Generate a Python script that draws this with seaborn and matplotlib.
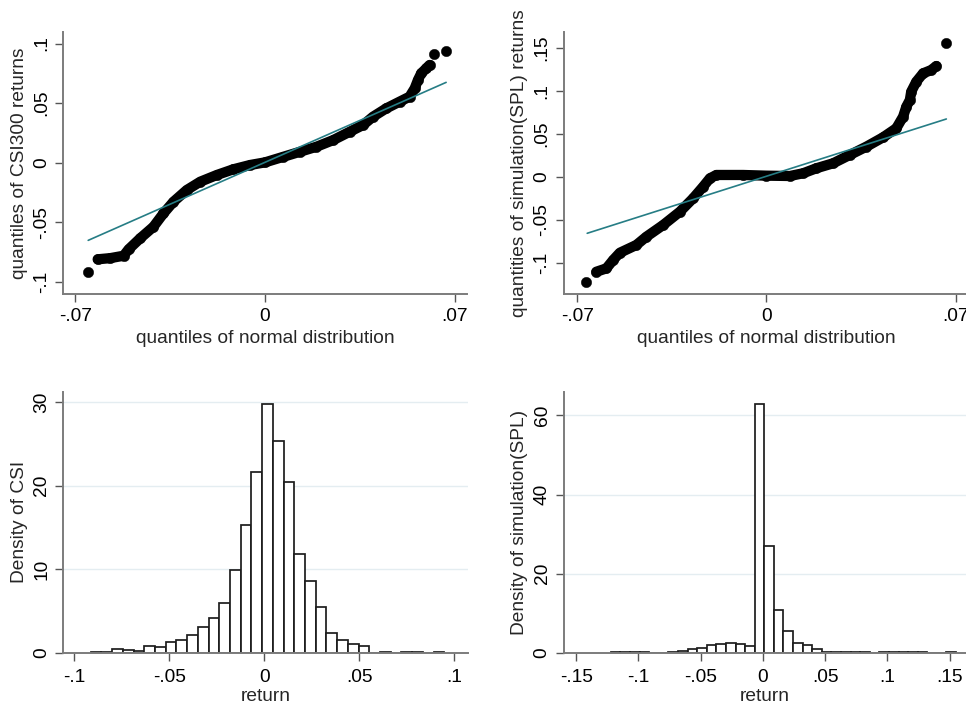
import numpy as np
import pandas as pd
import matplotlib
matplotlib.use("Agg")
import matplotlib.pyplot as plt
import seaborn as sns

# ---------------- data ----------------
# Q-Q plot CSI300 (normal quantile, sample quantile) along the dense band
csi_qx = [-0.0618, -0.0571, -0.0522, -0.0504, -0.0461, -0.0412, -0.0375, -0.0338,
          -0.0289, -0.0239, -0.0178, -0.0117, -0.0055, 0.0, 0.0068, 0.0129, 0.019,
          0.0252, 0.0313, 0.0362, 0.0399, 0.0448, 0.0497, 0.0534, 0.0553, 0.0565,
          0.0577, 0.0596, 0.0608]
csi_qy = [-0.081, -0.080, -0.078, -0.0727, -0.0634, -0.0537, -0.0425, -0.0327,
          -0.0229, -0.0159, -0.0103, -0.0055, -0.0019, 0.0003, 0.005, 0.0092, 0.0134,
          0.019, 0.026, 0.0316, 0.0386, 0.0456, 0.0512, 0.0554, 0.0624, 0.0694,
          0.075, 0.0792, 0.082]
csi_tail_x = [-0.0653, 0.0626, 0.0669]
csi_tail_y = [-0.092, 0.0912, 0.094]
csi_ref_x = [-0.0653, 0.0669]
csi_ref_y = [-0.0651, 0.0674]

# Q-Q plot simulation (SPL)
spl_qx = [-0.0629, -0.0592, -0.0567, -0.0542, -0.0481, -0.0444, -0.0382, -0.032,
          -0.0271, -0.0234, -0.0209, -0.0185, -0.0086, 0.0, 0.0087, 0.0136, 0.0185,
          0.0247, 0.0308, 0.037, 0.0432, 0.0481, 0.0506, 0.0518, 0.0531, 0.0536,
          0.0555, 0.058, 0.061, 0.0629]
spl_qy = [-0.1105, -0.1066, -0.0969, -0.0884, -0.0794, -0.0698, -0.0562, -0.0407,
          -0.0251, -0.0116, -0.0019, 0.002, 0.002, 0.0012, 0.0008, 0.004, 0.0098,
          0.0156, 0.0252, 0.0349, 0.0458, 0.0563, 0.0698, 0.0814, 0.0892, 0.0988,
          0.1105, 0.1202, 0.124, 0.1287]
spl_tail_x = [-0.0666, 0.0666]
spl_tail_y = [-0.1221, 0.1551]
spl_ref_x = [-0.0663, 0.0666]
spl_ref_y = [-0.0658, 0.0671]

# Histogram CSI (density per bin)
csi_bin_start = -0.0914
csi_bin_width = 0.00564
csi_density = [0.09, 0.09, 0.4, 0.3, 0.2, 0.85, 0.65, 1.25, 1.5, 2.1, 3.1, 4.15,
               6.0, 9.85, 15.3, 21.6, 29.8, 25.4, 20.5, 11.8, 8.6, 5.5, 2.4, 1.5,
               1.1, 0.84, 0.0, 0.09, 0.0, 0.09, 0.09, 0.0, 0.09]

# Histogram SPL (density per bin)
spl_bin_start = -0.1221
spl_bin_width = 0.0077
spl_density = [0.1, 0.1, 0.1, 0.1, 0.05, 0.05, 0.15, 0.5, 0.9, 1.3, 1.85, 2.15,
               2.5, 2.2, 1.75, 63.0, 27.0, 10.8, 5.6, 2.5, 1.9, 0.85, 0.2, 0.1,
               0.1, 0.1, 0.1, 0.0, 0.1, 0.1, 0.1, 0.1, 0.1, 0.0, 0.0, 0.1]

# ticks
qq_xticks = [-0.07, 0.0, 0.07]
qq_xlabels = ["-.07", "0", ".07"]
csi_qq_yticks = [-0.1, -0.05, 0.0, 0.05, 0.1]
csi_qq_ylabels = ["-.1", "-.05", "0", ".05", ".1"]
spl_qq_yticks = [-0.1, -0.05, 0.0, 0.05, 0.1, 0.15]
spl_qq_ylabels = ["-.1", "-.05", "0", ".05", ".1", ".15"]
csi_h_xticks = [-0.1, -0.05, 0.0, 0.05, 0.1]
csi_h_xlabels = ["-.1", "-.05", "0", ".05", ".1"]
csi_h_yticks = [0, 10, 20, 30]
spl_h_xticks = [-0.15, -0.1, -0.05, 0.0, 0.05, 0.1, 0.15]
spl_h_xlabels = ["-.15", "-.1", "-.05", "0", ".05", ".1", ".15"]
spl_h_yticks = [0, 20, 40, 60]

# ---------------- style ----------------
sns.set_theme(style="ticks")
plt.rcParams["font.family"] = ["Liberation Sans", "DejaVu Sans"]
FS = 13.8
AXC = "#7c7c7c"
TICKC = "#555555"
TEAL = "#267d85"

fig = plt.figure(figsize=(9.66, 7.06), dpi=100)
W, H = 966.0, 706.0


def add_ax(l, r, t, b):
    return fig.add_axes([l / W, (H - b) / H, (r - l) / W, (b - t) / H])


ax1 = add_ax(63.3, 466.7, 31.7, 294.0)
ax2 = add_ax(563.7, 969.3, 31.7, 294.0)
ax3 = add_ax(63.3, 467.7, 391.7, 652.7)
ax4 = add_ax(563.7, 966.5, 391.7, 652.7)


def style_axis(ax, xlabpad):
    for s in ["top", "right"]:
        ax.spines[s].set_visible(False)
    for s in ["left", "bottom"]:
        ax.spines[s].set_color(AXC)
        ax.spines[s].set_linewidth(1.4)
    ax.tick_params(axis="both", direction="out", length=6, width=1.0,
                   color=TICKC, labelsize=FS, labelcolor="black")
    ax.tick_params(axis="x", pad=xlabpad)
    ax.tick_params(axis="y", pad=3.5)


def qq_panel(ax, bx, by, tx, ty, rx, ry, ylabel, yticks, ylabels, ylim):
    band = pd.DataFrame({"x": bx, "y": by})
    sns.lineplot(data=band, x="x", y="y", ax=ax, color="black", linewidth=7.4,
                 sort=False, estimator=None, solid_capstyle="round",
                 solid_joinstyle="round", zorder=2)
    pts = pd.DataFrame({"x": bx + tx, "y": by + ty})
    sns.scatterplot(data=pts, x="x", y="y", ax=ax, color="black", s=56,
                    edgecolor="black", linewidth=0.3, zorder=3)
    ref = pd.DataFrame({"x": rx, "y": ry})
    sns.lineplot(data=ref, x="x", y="y", ax=ax, color=TEAL, linewidth=1.2, sort=False,
                 estimator=None, zorder=4)
    ax.set_xlim(-0.0745, 0.0745)
    ax.set_ylim(*ylim)
    ax.set_xticks(qq_xticks)
    ax.set_xticklabels(qq_xlabels)
    ax.set_yticks(yticks)
    ax.set_yticklabels(ylabels, rotation=90, va="center")
    ax.set_xlabel("quantiles of normal distribution", fontsize=FS, labelpad=4)
    ax.set_ylabel(ylabel, fontsize=FS, labelpad=4)
    style_axis(ax, 4.0)


def hist_panel(ax, start, width, dens, ylabel, xticks, xlabels, yticks, xlim, ylim):
    n = len(dens)
    edges = start + width * np.arange(n + 1)
    centers = (edges[:-1] + edges[1:]) / 2
    df = pd.DataFrame({"x": centers, "w": dens})
    ax.yaxis.grid(True, color="#e4edf1", linewidth=1.0, zorder=0)
    ax.set_axisbelow(True)
    sns.histplot(data=df, x="x", weights="w", bins=edges.tolist(), stat="count", ax=ax,
                 element="bars", fill=True, facecolor="white", alpha=1,
                 edgecolor="#1c1c1c", linewidth=1.25, zorder=2)
    ax.set_xlim(*xlim)
    ax.set_ylim(*ylim)
    ax.set_xticks(xticks)
    ax.set_xticklabels(xlabels)
    ax.set_yticks(yticks)
    ax.set_yticklabels([str(v) for v in yticks], rotation=90, va="center")
    ax.set_xlabel("return", fontsize=FS, labelpad=1.5)
    ax.set_ylabel(ylabel, fontsize=FS, labelpad=4)
    style_axis(ax, 5.5)


qq_panel(ax1, csi_qx, csi_qy, csi_tail_x, csi_tail_y, csi_ref_x, csi_ref_y,
         "quantiles of CSI300 returns", csi_qq_yticks, csi_qq_ylabels, (-0.1101, 0.1099))
qq_panel(ax2, spl_qx, spl_qy, spl_tail_x, spl_tail_y, spl_ref_x, spl_ref_y,
         "quantities of simulation(SPL) returns", spl_qq_yticks, spl_qq_ylabels,
         (-0.1364, 0.1686))
ax2.set_xlim(-0.075, 0.0751)

hist_panel(ax3, csi_bin_start, csi_bin_width, csi_density, "Density of CSI",
           csi_h_xticks, csi_h_xlabels, csi_h_yticks, (-0.1058, 0.107), (0, 31.26))
hist_panel(ax4, spl_bin_start, spl_bin_width, spl_density, "Density of simulation(SPL)",
           spl_h_xticks, spl_h_xlabels, spl_h_yticks, (-0.160, 0.1635), (0, 66.0))

fig.savefig("out.png", dpi=100)
